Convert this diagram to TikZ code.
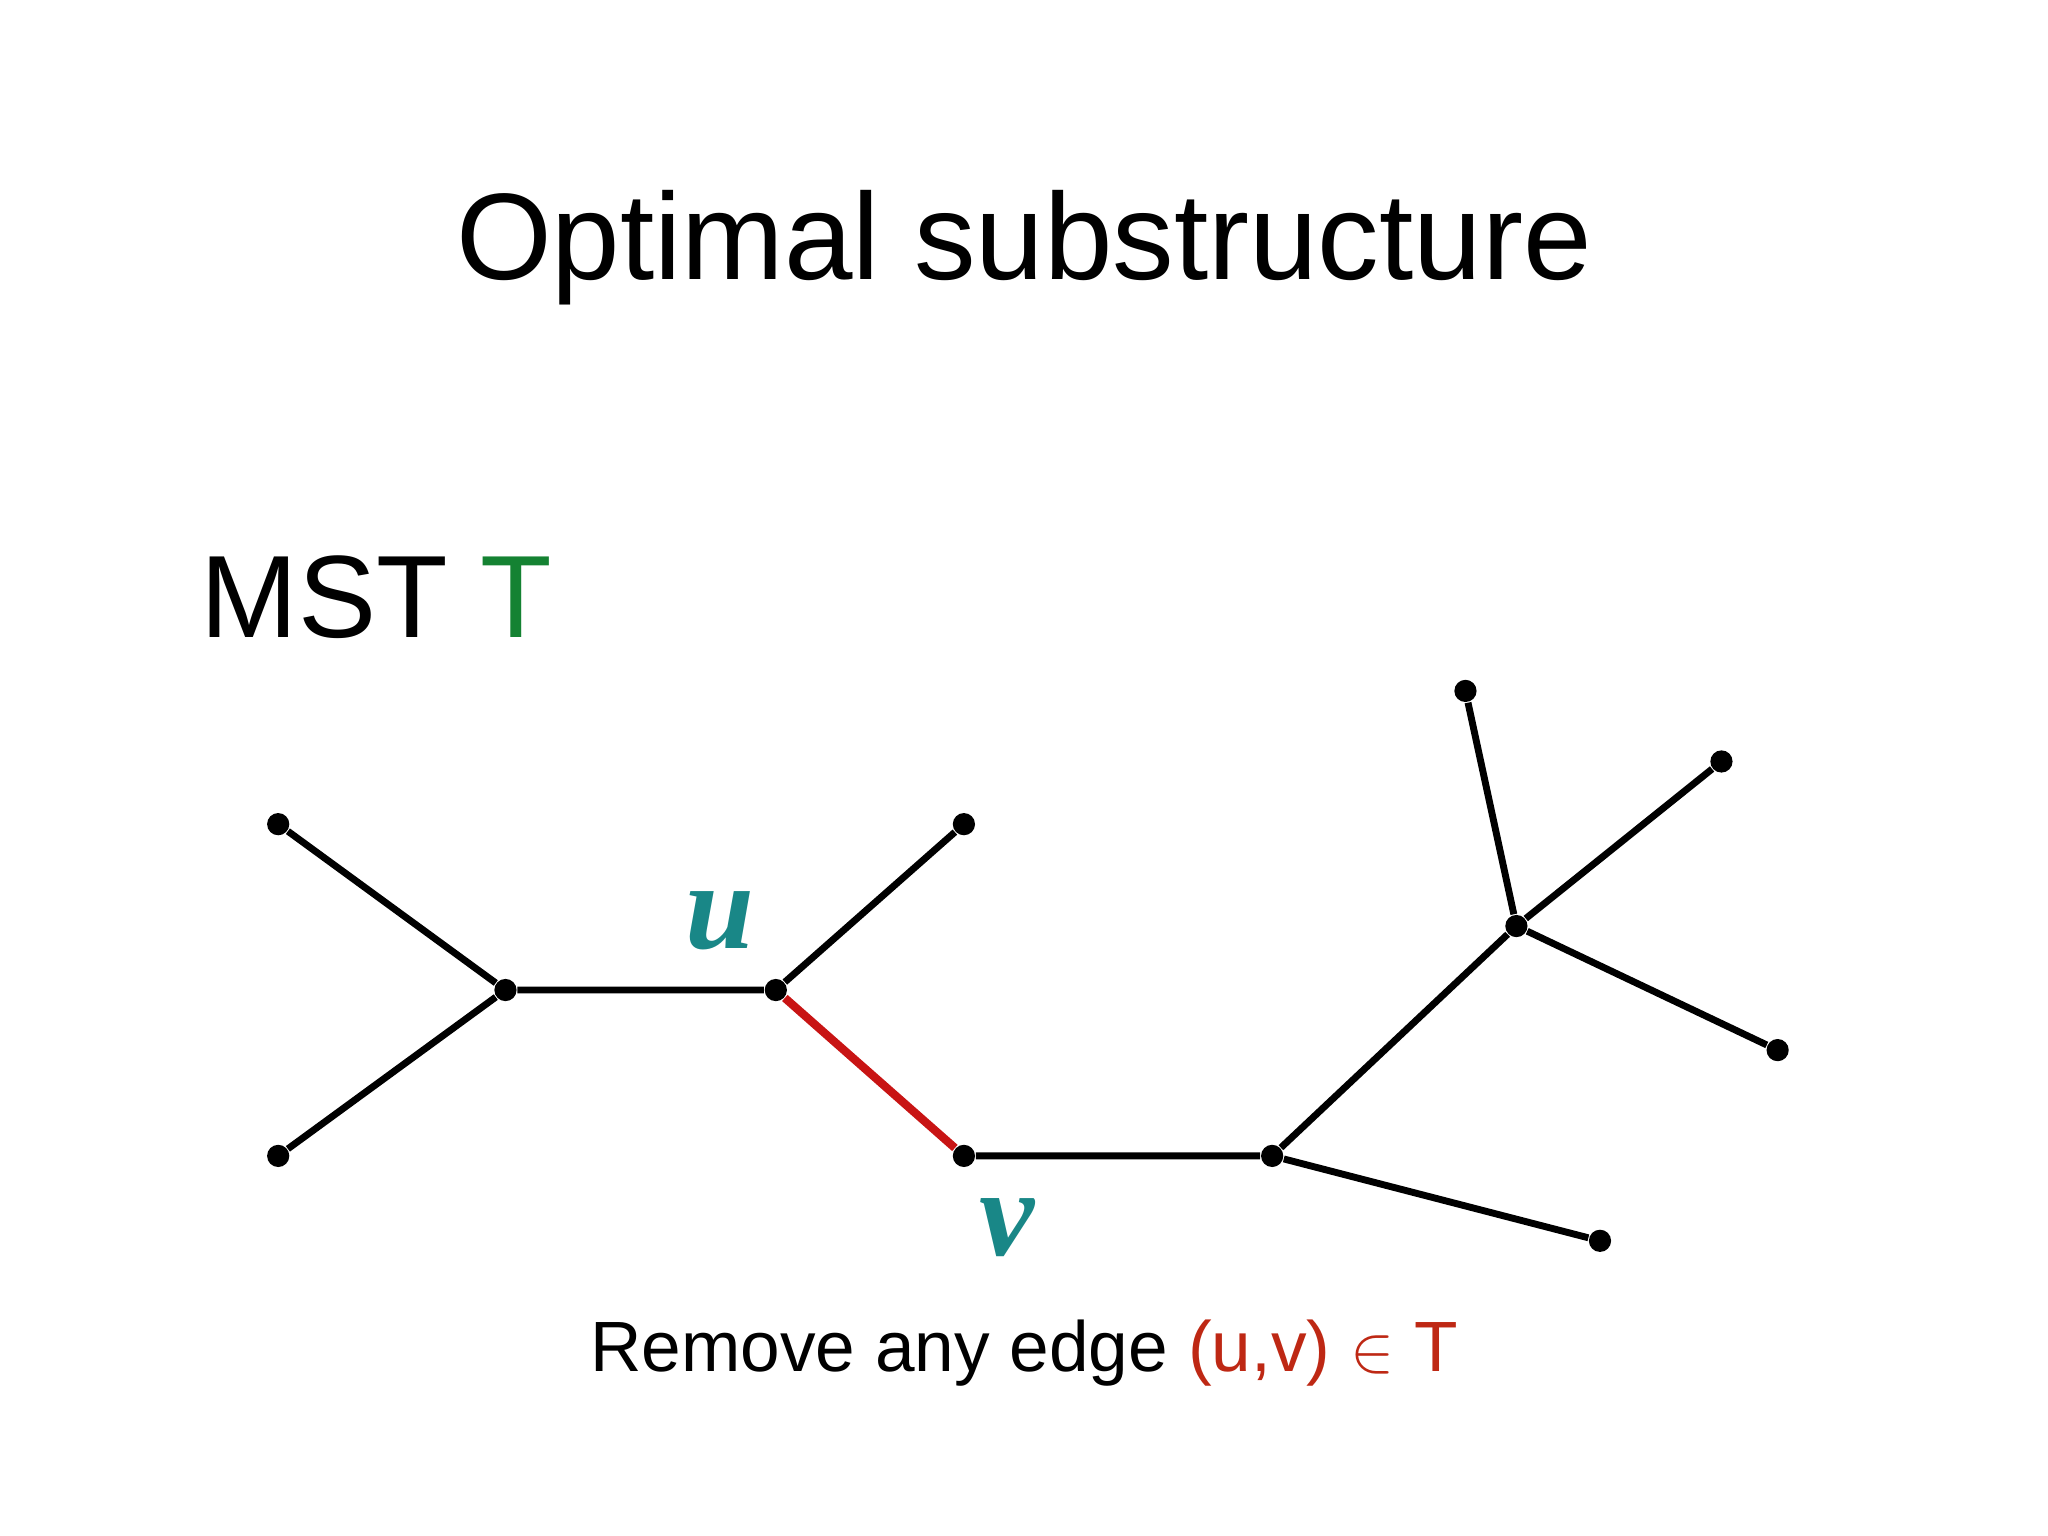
\documentclass[tikz,border=0pt]{standalone}
\usepackage{fontspec}
\setmainfont{Liberation Sans}
\newfontfamily\lblfont{Liberation Serif}
\definecolor{tealc}{RGB}{25,135,135}
\definecolor{redc}{RGB}{200,20,20}
\definecolor{orc}{RGB}{190,40,20}
\definecolor{grn}{RGB}{20,130,50}
\begin{document}
\begin{tikzpicture}[x=0.01cm,y=-0.01cm,
  vtx/.style={circle,fill=black,inner sep=0pt,minimum size=0.17cm},
  edg/.style={line width=1.5pt,black},
  lbl/.style={text=tealc,font=\lblfont\bfseries\itshape\fontsize{27}{27}\selectfont}]
\useasboundingbox (0,0) rectangle (1568,1176);
\node (title) at (784,190) {\fontsize{26.8}{32}\selectfont Optimal substructure};
\node[anchor=base west,inner sep=0pt] (mst) at (153,488) {\fontsize{25.5}{30}\selectfont MST \textcolor{grn}{T}};
\node[vtx] (a) at (213,631) {};
\node[vtx] (b) at (213,885) {};
\node[vtx] (c) at (387,758) {};
\node[vtx] (u) at (594,758) {};
\node[vtx] (d) at (738,631) {};
\node[vtx] (v) at (738,885) {};
\node[vtx] (e) at (974,885) {};
\node[vtx] (f) at (1225,950) {};
\node[vtx] (g) at (1161,709) {};
\node[vtx] (h) at (1122,529) {};
\node[vtx] (i) at (1318,583) {};
\node[vtx] (j) at (1361,804) {};
\draw[edg] (a)--(c) (b)--(c) (c)--(u) (u)--(d) (v)--(e) (e)--(f) (e)--(g) (g)--(h) (g)--(i) (g)--(j);
\draw[line width=1.8pt,redc] (u)--(v);
\node[lbl] (ul) at (551,705) {u};
\node[lbl] (vl) at (771,940) {v};
\node (cap) at (784,1036) {\fontsize{15.5}{20}\selectfont Remove any edge \textcolor{orc}{(u,v) $\in$ T}};
\end{tikzpicture}
\end{document}
